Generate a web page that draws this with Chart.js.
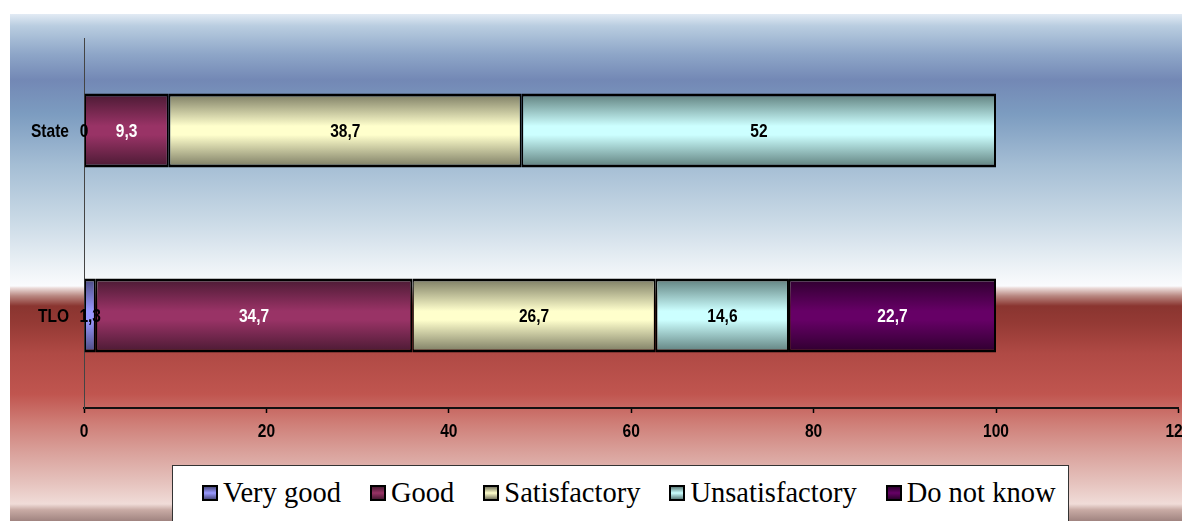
<!DOCTYPE html>
<html>
<head>
<meta charset="utf-8">
<script src="https://cdn.jsdelivr.net/npm/chart.js@4/dist/chart.umd.min.js"></script>
<style>
  html, body { margin: 0; padding: 0; background: #fff; overflow: hidden; }
  body { width: 1182px; height: 521px; position: relative; }
  #panel {
    position: absolute; left: 10px; top: 14px; right: 0; bottom: 0;
    background: linear-gradient(to bottom,
      #e2ebf4 0px, #b9cde0 12px, #8ea6c8 40px, #7388b5 66px, #7c9cc0 100px,
      #a4bdd4 150px, #ccdbe7 210px, #eef3f7 255px, #fafbfd 272px,
      #ecdcda 274px, #b88680 282px, #8a3530 292px, #953a35 310px,
      #b04a45 340px, #c0554f 380px, #cf7f78 410px, #daa39d 440px,
      #e6c4bf 470px, #f0dcd8 490px, #c8aaa4 496px, #a08480 507px);
  }
  #wrap { position: absolute; left: 0; top: 0; width: 1200px; height: 465px; }
  #legend {
    position: absolute; left: 172px; top: 465px; width: 897px; height: 70px;
    background: #fff; border: 1px solid #333;
    font-family: "Liberation Serif", "Times New Roman", serif; font-size: 28.5px;
    line-height: 32px; padding: 11px 0 0 29px; box-sizing: border-box;
    display: flex; align-items: flex-start; white-space: nowrap;
  }
  .item { display: flex; align-items: center; margin-right: 29px; }
  .swatch { width: 12px; height: 12px; border: 2px solid #000; margin-right: 5px; }
</style>
</head>
<body>
<div id="panel"></div>
<div id="wrap"><canvas id="chart" width="1200" height="465"></canvas></div>
<div id="legend"></div>
<script>
const categories = ['State', 'TLO'];
const seriesNames = ['Very good', 'Good', 'Satisfactory', 'Unsatisfactory', 'Do not know'];
const veryGood = [0, 1.3];
const good = [9.3, 34.7];
const satisfactory = [38.7, 26.7];
const unsatisfactory = [52, 14.6];
const doNotKnow = [null, 22.7];
const xTicks = [0, 20, 40, 60, 80, 100, 120];

const lightColors = ['#9999ff', '#993366', '#ffffcc', '#ccffff', '#660066'];
const darkColors = ['#4a4a80', '#4a1a33', '#7a7a62', '#5e7e7c', '#2e002e'];
const labelColors = ['#000', '#fff', '#000', '#000', '#fff'];
const barPct = 0.4;
const textFont = 'bold 18.5px "Liberation Sans", Arial, sans-serif';

function barFill(i) {
  return (ctx) => {
    const chart = ctx.chart;
    const ys = chart.scales.y;
    if (!ys || ctx.dataIndex === undefined || !ys.height) return lightColors[i];
    const c = ys.getPixelForValue(ctx.dataIndex);
    const half = ys.height / categories.length * barPct / 2;
    const g = chart.ctx.createLinearGradient(0, c - half, 0, c + half);
    g.addColorStop(0, darkColors[i]);
    g.addColorStop(0.44, lightColors[i]);
    g.addColorStop(0.56, lightColors[i]);
    g.addColorStop(1, darkColors[i]);
    return g;
  };
}

// condensed bold text, like the original Arial output
function narrowText(ctx, text, x, y, align, color) {
  ctx.save();
  ctx.translate(x, y);
  ctx.scale(0.84, 1);
  ctx.font = textFont;
  ctx.fillStyle = color;
  ctx.textAlign = align;
  ctx.textBaseline = 'middle';
  ctx.fillText(text, 0, 0);
  ctx.restore();
}

const textLabels = {
  id: 'textLabels',
  afterDatasetsDraw(chart) {
    const ctx = chart.ctx;
    chart.data.datasets.forEach((ds, i) => {
      chart.getDatasetMeta(i).data.forEach((bar, j) => {
        const v = ds.data[j];
        if (v === null || v === undefined) return;
        narrowText(ctx, String(v).replace('.', ','), (bar.x + bar.base) / 2, bar.y + 1, 'center', labelColors[i]);
      });
    });
    const xs = chart.scales.x, ys = chart.scales.y;
    xs.ticks.forEach((t, i) => {
      narrowText(ctx, String(t.value), xs.getPixelForTick(i), xs.top + 24, 'center', '#000');
    });
    ys.getLabels().forEach((lab, i) => {
      narrowText(ctx, lab, ys.right - 15, ys.getPixelForTick(i) + 1, 'right', '#000');
    });
  }
};

const seriesData = [veryGood, good, satisfactory, unsatisfactory, doNotKnow];

new Chart(document.getElementById('chart'), {
  type: 'bar',
  data: {
    labels: categories,
    datasets: seriesData.map((d, i) => ({
      label: seriesNames[i],
      data: d,
      backgroundColor: barFill(i),
      borderColor: '#000',
      borderWidth: { top: 3, bottom: 3, left: 1.5, right: 2 },
      borderSkipped: false,
      barPercentage: barPct,
      categoryPercentage: 1
    }))
  },
  options: {
    indexAxis: 'y',
    responsive: false,
    animation: false,
    layout: { padding: { left: 0, top: 38, right: 21.6, bottom: 0 } },
    plugins: { legend: { display: false }, tooltip: { enabled: false } },
    scales: {
      x: {
        stacked: true,
        min: 0, max: 120,
        afterBuildTicks: (s) => { s.ticks = xTicks.map(v => ({ value: v })); },
        afterFit: (s) => { s.height = 57; s.paddingLeft = 0; s.paddingRight = 0; },
        grid: { drawOnChartArea: false, drawTicks: true, tickLength: 5, tickColor: '#000', tickWidth: 1.5 },
        border: { display: true, color: '#111', width: 2 },
        ticks: { display: false, autoSkip: false }
      },
      y: {
        stacked: true,
        afterFit: (s) => { s.width = 84; },
        grid: { display: false, drawTicks: false },
        border: { display: true, color: '#444', width: 1 },
        ticks: { display: false }
      }
    }
  },
  plugins: [textLabels]
});

const legend = document.getElementById('legend');
seriesNames.forEach((name, i) => {
  const item = document.createElement('div');
  item.className = 'item';
  const sw = document.createElement('span');
  sw.className = 'swatch';
  sw.style.background = `linear-gradient(to bottom, ${darkColors[i]}, ${lightColors[i]} 50%, ${darkColors[i]})`;
  const txt = document.createElement('span');
  txt.textContent = name;
  item.appendChild(sw);
  item.appendChild(txt);
  legend.appendChild(item);
});
</script>
</body>
</html>
